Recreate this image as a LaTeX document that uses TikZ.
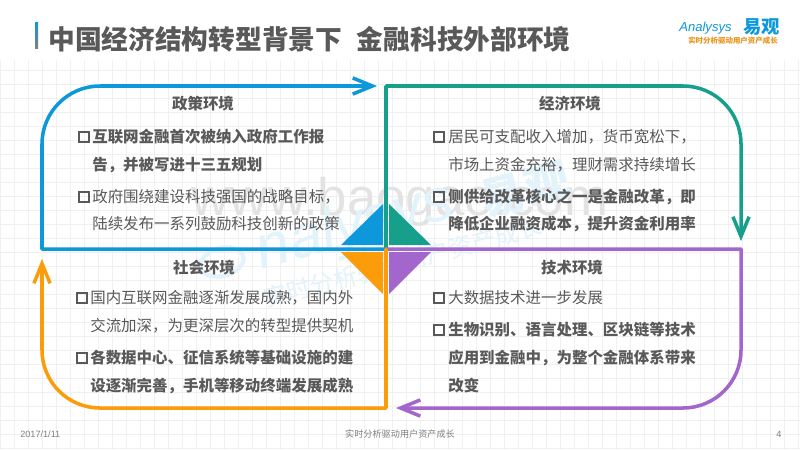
\documentclass[tikz,border=0pt]{standalone}
\usepackage{fontspec}
\setmainfont{Noto Sans CJK SC}
\setsansfont{Liberation Sans}
\definecolor{polblue}{HTML}{0D98DC}
\definecolor{ecoteal}{HTML}{16A08C}
\definecolor{socorange}{HTML}{FB9D0B}
\definecolor{techpurple}{HTML}{A366CC}
\definecolor{txtgray}{HTML}{595959}
\usetikzlibrary{arrows.meta,shapes.geometric}
\tikzset{
  loopline/.style={line width=2.5pt,line cap=round,line join=round},
  loophead/.style={loopline,->,>={Straight Barb[length=14pt,width=11.5pt,line width=2.5pt]}},
  heading/.style={text=txtgray,font=\fontsize{11}{11}\selectfont\bfseries,inner sep=0pt},
  plainline/.style={anchor=west,text=txtgray,font=\fontsize{11}{11}\selectfont,inner sep=0pt},
  boldline/.style={plainline,font=\fontsize{11}{11}\selectfont\bfseries},
  tick/.style={draw=txtgray,line width=1.5pt,minimum size=7pt,inner sep=0pt}
}
\begin{document}
\begin{tikzpicture}[x=0.025cm,y=-0.025cm]
    \useasboundingbox (0,0) rectangle (800,450);
    \fill[white] (0,0) rectangle (800,450);
    % grid
    \draw[black!6,line width=0.3pt,step=0.35cm] (0,60) grid (800,450);
    % watermark
    \node[anchor=base,text=black!11,font=\sffamily\fontsize{37.5}{37.5}\selectfont,inner sep=0pt] (wwwmark) at (400,215) {www.baogao.com};
    \node[draw=polblue!12,line width=3pt,ellipse,rotate=15,minimum width=1.1cm,minimum height=0.7cm] (ringmark) at (222,262) {};
    \node[rotate=15,text=polblue!12,font=\sffamily\itshape\fontsize{43}{43}\selectfont,inner sep=0pt] (logomark) at (355,228) {nalysys};
    \node[rotate=15,text=polblue!12,font=\fontsize{32}{32}\selectfont\bfseries,inner sep=0pt] (namemark) at (525,190) {易观};
    \node[rotate=15,text=polblue!12,font=\fontsize{17}{17}\selectfont,inner sep=0pt] (slogan) at (403,262) {实时分析驱动用户资产成长};
    % header
    \shade[top color=polblue,bottom color=gray] (35,22) rectangle (38,48);
    \node[anchor=west,text=txtgray,font=\fontsize{19}{19}\selectfont\bfseries,inner sep=0pt] (title) at (48,39) {中国经济结构转型背景下\hspace{0.55em}金融科技外部环境};
    \fill[white] (665,12) rectangle (788,53);
    \node[anchor=west,text=polblue,font=\sffamily\itshape\fontsize{9.3}{9.3}\selectfont,inner sep=0pt] (logoa) at (679,28) {Analysys};
    \node[anchor=west,text=polblue,font=\fontsize{13}{13}\selectfont\bfseries,inner sep=0pt] (logob) at (743,27) {易观};
    \node[anchor=west,text=socorange!70!brown,font=\fontsize{5.3}{5.3}\selectfont\bfseries,inner sep=0pt] (logoc) at (688,41) {实时分析驱动用户资产成长};
    % corners of the four loops
    \coordinate (mid) at (386,249);
    \coordinate (bluecorner) at (42,249);
    \coordinate (blueturn) at (42,86);
    \coordinate (blueend) at (377,86);
    \coordinate (tealcorner) at (386,86);
    \coordinate (tealturn) at (741,86);
    \coordinate (tealend) at (741,241);
    \coordinate (purplecorner) at (741,249);
    \coordinate (purpleturn) at (741,408);
    \coordinate (purpleend) at (396,408);
    \coordinate (orangecorner) at (386,408);
    \coordinate (orangeturn) at (42,408);
    \coordinate (orangeend) at (42,259);
    \draw[loophead,draw=polblue] (mid) -- (bluecorner) [rounded corners=1.45cm] -- (blueturn) -- (blueend);
    \draw[loophead,draw=ecoteal] (mid) -- (tealcorner) [rounded corners=1.45cm] -- (tealturn) -- (tealend);
    \draw[loophead,draw=techpurple] (mid) -- (purplecorner) [rounded corners=1.45cm] -- (purpleturn) -- (purpleend);
    \draw[loophead,draw=socorange] (mid) -- (orangecorner) [rounded corners=1.45cm] -- (orangeturn) -- (orangeend);
    % centre
    \fill[polblue] (383,204) -- (383,245) -- (341,245) -- cycle;
    \fill[ecoteal] (389,204) -- (389,245) -- (431,245) -- cycle;
    \fill[socorange] (383,294) -- (383,252) -- (341,252) -- cycle;
    \fill[techpurple] (389,294) -- (389,252) -- (431,252) -- cycle;
    % policy
    \node[heading] (polhead) at (203,104) {政策环境};
    \node[tick] (polta) at (84,137) {};
    \node[boldline] (pola) at (92,137) {互联网金融首次被纳入政府工作报};
    \node[boldline] (polb) at (92,165) {告，并被写进十三五规划};
    \node[tick] (poltc) at (84,197) {};
    \node[plainline] (polc) at (92,197) {政府围绕建设科技强国的战略目标，};
    \node[plainline] (pold) at (92,224) {陆续发布一系列鼓励科技创新的政策};
    % economy
    \node[heading] (ecohead) at (570,104) {经济环境};
    \node[tick] (ecota) at (439,137) {};
    \node[plainline] (ecoa) at (448,137) {居民可支配收入增加，货币宽松下，};
    \node[plainline] (ecob) at (448,165) {市场上资金充裕，理财需求持续增长};
    \node[tick] (ecotc) at (439,197) {};
    \node[boldline] (ecoc) at (448,197) {侧供给改革核心之一是金融改革，即};
    \node[boldline] (ecod) at (448,224) {降低企业融资成本，提升资金利用率};
    % society
    \node[heading] (sochead) at (204,268) {社会环境};
    \node[tick] (socta) at (82,298) {};
    \node[plainline] (soca) at (90,298) {国内互联网金融逐渐发展成熟，国内外};
    \node[plainline] (socb) at (90,326) {交流加深，为更深层次的转型提供契机};
    \node[tick] (soctc) at (82,358) {};
    \node[boldline] (socc) at (90,358) {各数据中心、征信系统等基础设施的建};
    \node[boldline] (socd) at (90,386) {设逐渐完善，手机等移动终端发展成熟};
    % technology
    \node[heading] (techhead) at (572,268) {技术环境};
    \node[tick] (techta) at (439,298) {};
    \node[plainline] (techa) at (448,298) {大数据技术进一步发展};
    \node[tick] (techtb) at (439,330) {};
    \node[boldline] (techb) at (448,330) {生物识别、语言处理、区块链等技术};
    \node[boldline] (techc) at (448,358) {应用到金融中，为整个金融体系带来};
    \node[boldline] (techd) at (448,386) {改变};
    % footer
    \node[anchor=west,text=gray,font=\sffamily\fontsize{6.5}{6.5}\selectfont,inner sep=0pt] (date) at (20,434) {2017/1/11};
    \node[text=gray,font=\fontsize{6.5}{6.5}\selectfont,inner sep=0pt] (foot) at (400,434) {实时分析驱动用户资产成长};
    \node[text=gray,font=\sffamily\fontsize{6.5}{6.5}\selectfont,inner sep=0pt] (page) at (779,434) {4};
\end{tikzpicture}
\end{document}
